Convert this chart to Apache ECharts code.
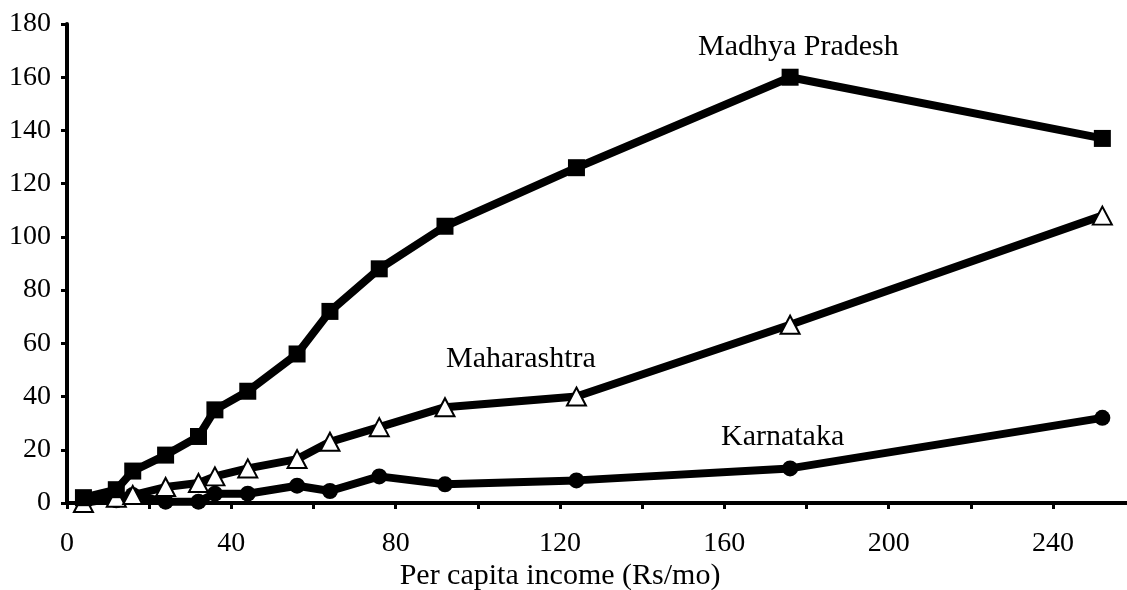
<!DOCTYPE html>
<html>
<head>
<meta charset="utf-8">
<script src="https://cdn.jsdelivr.net/npm/echarts@6/dist/echarts.min.js"></script>
<style>
  html, body { margin: 0; padding: 0; background: #fff; }
  #chart { width: 1127px; height: 590px; }
</style>
</head>
<body>
<div id="chart"></div>
<script>
// per capita income (Rs/mo), class midpoints
var income = [4, 12, 16, 24, 32, 36, 44, 56, 64, 76, 92, 124, 176, 252];
var madhyaPradesh = [2, 5, 12, 18, 25, 35, 42, 56, 72, 88, 104, 126, 160, 137];
var maharashtra = [0, 2, 3, 6, 7.5, 10, 13, 16.5, 23, 28.5, 36, 40, 67, 108];
var karnataka = [1, 1, 3, 0.5, 0.5, 3.5, 3.5, 6.5, 4.5, 10, 7, 8.5, 13, 32];

var xTicks = [0, 20, 40, 60, 80, 100, 120, 140, 160, 180, 200, 220, 240];
var xTickLabels = [0, 40, 80, 120, 160, 200, 240];

var FONT = '"Liberation Serif", "DejaVu Serif", serif';

function pairs(ys) {
    var out = [];
    for (var i = 0; i < income.length; i++) {
        out.push([income[i], ys[i]]);
    }
    return out;
}

var myChart = echarts.init(document.getElementById('chart'));

var option = {
    animation: false,
    backgroundColor: '#fff',
    grid: { left: 67, right: 0, top: 24, bottom: 87 },
    xAxis: [
        {
            type: 'value',
            position: 'bottom',
            min: 0,
            max: 258,
            axisLine: { show: true, onZero: false, lineStyle: { color: '#000', width: 4 } },
            axisTick: { show: true, length: 6, customValues: xTicks, lineStyle: { color: '#000', width: 3 } },
            axisLabel: { customValues: xTickLabels, color: '#000', fontFamily: FONT, fontSize: 28, margin: 27 },
            splitLine: { show: false }
        },
        {
            // the closing line along the top
            type: 'value',
            position: 'top',
            min: 0,
            max: 258,
            axisLine: { show: true, lineStyle: { color: '#000', width: 4 } },
            axisTick: { show: false },
            axisLabel: { show: false },
            splitLine: { show: false }
        }
    ],
    yAxis: {
        type: 'value',
        min: 0,
        max: 180,
        interval: 20,
        axisLine: { show: true, lineStyle: { color: '#000', width: 4 } },
        axisTick: { show: true, length: 6, lineStyle: { color: '#000', width: 3 } },
        axisLabel: { color: '#000', fontFamily: FONT, fontSize: 28, margin: 16 },
        splitLine: { show: false }
    },
    series: [
        {
            name: 'Karnataka',
            type: 'line',
            data: pairs(karnataka),
            symbol: 'circle',
            symbolSize: 16,
            lineStyle: { color: '#000', width: 8 },
            itemStyle: { color: '#000' }
        },
        {
            name: 'Maharashtra',
            type: 'line',
            data: pairs(maharashtra),
            symbol: 'triangle',
            symbolSize: [19, 18],
            lineStyle: { color: '#000', width: 8 },
            itemStyle: { color: '#fff', borderColor: '#000', borderWidth: 2 }
        },
        {
            name: 'Madhya Pradesh',
            type: 'line',
            data: pairs(madhyaPradesh),
            symbol: 'rect',
            symbolSize: 17,
            lineStyle: { color: '#000', width: 8 },
            itemStyle: { color: '#000' }
        }
    ],
    graphic: [
        { type: 'text', x: 698, y: 47, style: { text: 'Madhya Pradesh', font: '30px ' + FONT, fill: '#000', verticalAlign: 'middle' } },
        { type: 'text', x: 446, y: 359, style: { text: 'Maharashtra', font: '30px ' + FONT, fill: '#000', verticalAlign: 'middle' } },
        { type: 'text', x: 721, y: 437, style: { text: 'Karnataka', font: '30px ' + FONT, fill: '#000', verticalAlign: 'middle' } },
        { type: 'text', x: 560, y: 576, style: { text: 'Per capita income (Rs/mo)', font: '30px ' + FONT, fill: '#000', align: 'center', verticalAlign: 'middle' } }
    ]
};

myChart.setOption(option);
</script>
</body>
</html>
